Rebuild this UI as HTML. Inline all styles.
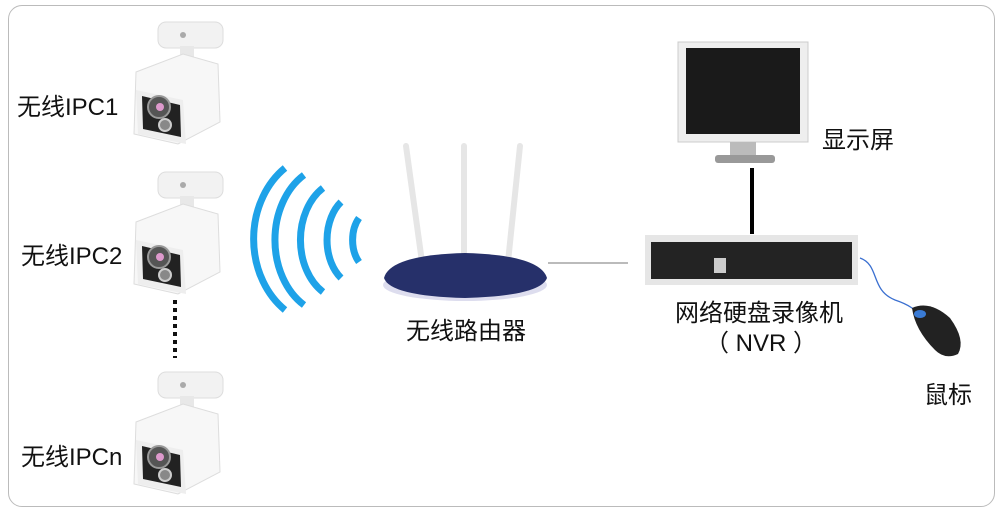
<!DOCTYPE html>
<html><head><meta charset="utf-8"><style>
body{margin:0;background:#fff;width:1001px;height:512px;overflow:hidden;font-family:"Liberation Sans","Noto Sans CJK SC",sans-serif}
.t{position:absolute;font-size:24px;color:#111;white-space:nowrap}
</style></head><body>
<div style="position:absolute;left:8px;top:5px;width:985px;height:500px;border:1px solid #bbb;border-radius:14px"></div>
<svg width="1001" height="512" style="position:absolute;left:0;top:0">
<defs>
<g id="cam">
<rect x="30" y="0" width="65" height="26" rx="8" fill="#f2f2f2" stroke="#ddd"/>
<circle cx="55" cy="13" r="3" fill="#aaa"/>
<rect x="52" y="24" width="14" height="12" fill="#e8e8e8"/>
<path d="M8 50 L55 32 L90 42 L92 100 L50 122 L6 112 Z" fill="#f7f7f7" stroke="#ddd"/>
<path d="M8 68 L55 78 L58 122 L10 112 Z" fill="#eee"/>
<path d="M14 74 L52 83 L53 115 L15 107 Z" fill="#222"/>
<circle cx="31" cy="85" r="11" fill="#555" stroke="#999" stroke-width="2"/>
<circle cx="32" cy="85" r="4" fill="#d9c"/>
<circle cx="37" cy="103" r="6" fill="#888" stroke="#ccc" stroke-width="2"/>
</g>
</defs>
<use href="#cam" x="128" y="22"/>
<use href="#cam" x="128" y="172"/>
<use href="#cam" x="128" y="372"/>
<line x1="175" y1="300" x2="175" y2="358" stroke="#111" stroke-width="4" stroke-dasharray="4,4"/>
<g fill="none" stroke="#1ea2e8" stroke-width="7" transform="translate(14,0)">
<path d="M345 218 A20 30 0 0 0 345 262"/>
<path d="M327 202 A32 46 0 0 0 327 278"/>
<path d="M309 188 A45 60 0 0 0 309 292"/>
<path d="M290 175 A58 75 0 0 0 290 305"/>
<path d="M271 168 A72 86 0 0 0 271 310"/>
</g>
<g stroke="#e6e6e6" stroke-width="6" stroke-linecap="round">
<line x1="406" y1="146" x2="422" y2="262"/>
<line x1="464" y1="146" x2="464" y2="258"/>
<line x1="520" y1="146" x2="508" y2="262"/>
</g>
<ellipse cx="465" cy="285" rx="82" ry="16" fill="#dde" />
<path d="M384 278 Q390 255 465 253 Q540 255 547 278 Q540 296 465 298 Q390 296 384 278Z" fill="#26306a"/>
<line x1="548" y1="263" x2="628" y2="263" stroke="#777" stroke-width="1"/>
<rect x="678" y="42" width="130" height="100" fill="#eee" stroke="#ccc"/>
<rect x="686" y="48" width="114" height="86" fill="#1a1a1a"/>
<rect x="730" y="142" width="26" height="14" fill="#bbb"/>
<rect x="715" y="155" width="60" height="8" rx="3" fill="#999"/>
<line x1="752" y1="168" x2="752" y2="234" stroke="#000" stroke-width="4"/>
<rect x="645" y="235" width="213" height="50" fill="#e6e6e6"/>
<rect x="651" y="242" width="201" height="37" fill="#232323"/>
<rect x="714" y="258" width="12" height="15" fill="#ccc"/>
<path d="M860 258 C880 265 870 290 895 300 C910 305 915 310 920 315" fill="none" stroke="#3a6fd0" stroke-width="1.3"/>
<path d="M912 308 Q930 300 950 318 Q966 340 958 354 Q945 360 935 350 Q915 330 912 308Z" fill="#222"/>
<ellipse cx="920" cy="314" rx="6" ry="4" fill="#3a7bd5"/>
</svg>
<div class="t" style="left:17px;top:87px">无线IPC1</div>
<div class="t" style="left:21px;top:236px">无线IPC2</div>
<div class="t" style="left:21px;top:437px">无线IPCn</div>
<div class="t" style="left:406px;top:311px">无线路由器</div>
<div class="t" style="left:822px;top:120px">显示屏</div>
<div class="t" style="left:675px;top:293px">网络硬盘录像机</div>
<div class="t" style="left:705px;top:323px">（ NVR ）</div>
<div class="t" style="left:924px;top:375px">鼠标</div>
</body></html>
